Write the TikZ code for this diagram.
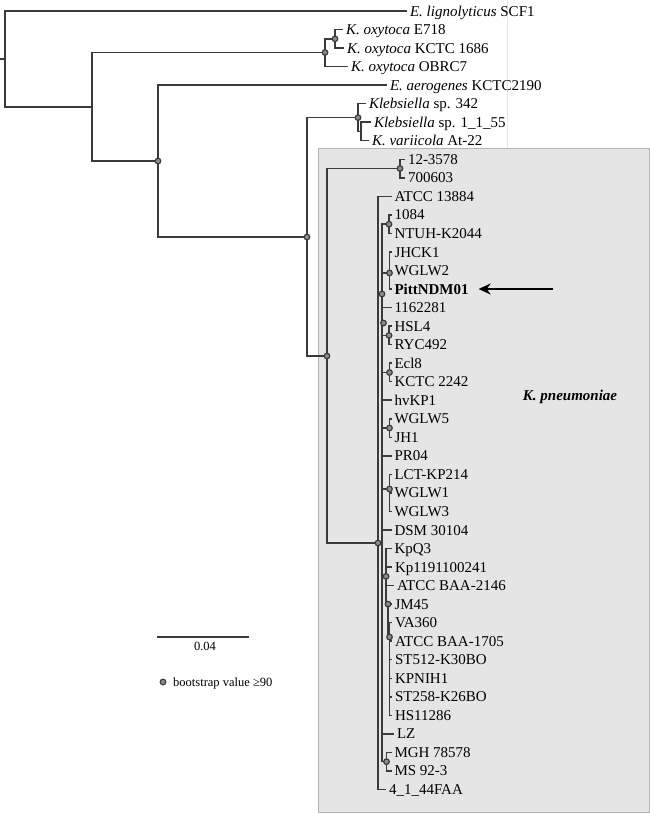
\documentclass[tikz,border=0pt]{standalone}
\usepackage{fontspec}
\setmainfont{Liberation Serif}
\usepackage{tikz}
\usetikzlibrary{arrows.meta}

\definecolor{treeline}{HTML}{3A3A3A}
\definecolor{boxfill}{HTML}{E5E5E5}
\definecolor{boxline}{HTML}{B4B4B4}
\definecolor{bootfill}{HTML}{8C8C8C}

\begin{document}
\begin{tikzpicture}[x=1pt, y=-1pt,
    branch/.style={treeline, line width=1.5pt},
    core/.style={treeline, line width=2.5pt},
    boot/.style={circle, draw=treeline, fill=bootfill, line width=1.2pt, minimum size=5.6pt, inner sep=0pt},
    leaf/.style={anchor=west, inner sep=0pt, outer xsep=3pt, outer ysep=0pt,
        text height=10pt, text depth=0pt, font=\fontsize{15}{18}\selectfont},
    legendtext/.style={inner sep=0pt, text height=8.5pt, text depth=0pt, font=\fontsize{12.5}{15}\selectfont},
    pointer/.style={-{Stealth[length=12pt, width=11pt]}, black, line width=2pt, shorten >=7pt}]
    \useasboundingbox (0,0) rectangle (650,814);

    % K. pneumoniae box
    \draw [fill=boxfill, draw=boxline, line width=0.8pt] (318,148) rectangle (649.5,812);
    \draw [black!10, line width=0.8pt] (507,0) -- (507,148);

    % inner nodes
    \coordinate (stem) at (0,59);
    \coordinate (r0) at (5,59);
    \coordinate (n1) at (92,107);
    \coordinate (oxy) at (325,52.5);
    \coordinate (oxy2) at (335,38.8);
    \coordinate (n2) at (158,161);
    \coordinate (n3) at (307,237);
    \coordinate (kleb) at (358,117.6);
    \coordinate (kleb2) at (361,131.5);
    \coordinate (n4) at (327,356);
    \coordinate (c12) at (400,168.5);
    \coordinate (kp) at (378,543);
    \coordinate (kpi) at (382,543);
        \coordinate (c1084) at (389,224.2);
        \coordinate (cJHCK) at (389.5,273);
        \coordinate (kpu) at (382,294);
        \coordinate (kpv) at (383.5,323);
        \coordinate (cHSL) at (389,335.4);
        \coordinate (cEcl) at (389.5,372.5);
        \coordinate (cWGLW5) at (389.5,428);
        \coordinate (cLCT) at (389.5,489);
        \coordinate (g2) at (386,576.4);
        \coordinate (g3) at (388,604.1);
        \coordinate (cVA) at (389.5,637);
        \coordinate (cMGH) at (386.5,761.7);

    % leaves
    \node[leaf] (lLign) at (407,11) {\textit{E. lignolyticus} SCF1};
    \node[leaf] (l718) at (343,29.5) {\textit{K. oxytoca} E718};
    \node[leaf] (l1686) at (344,48.1) {\textit{K. oxytoca} KCTC 1686};
    \node[leaf] (lOBRC) at (348,66.6) {\textit{K. oxytoca} OBRC7};
    \node[leaf] (lAerog) at (387,85.1) {\textit{E. aerogenes} KCTC2190};
    \node[leaf] (l342) at (366,103.7) {\textit{Klebsiella} sp. 342};
    \node[leaf] (l1155) at (371,122.2) {\textit{Klebsiella} sp. 1\_1\_55};
    \node[leaf] (lVari) at (369,140.7) {\textit{K. variicola} At-22};
    \node[leaf] (l3578) at (405,159.3) {12-3578};
    \node[leaf] (l0603) at (405,177.8) {700603};
    \node[leaf] (l13884) at (391.5,196.4) {ATCC 13884};
    \node[leaf] (l1084) at (391.5,214.9) {1084};
    \node[leaf] (lNTUH) at (391.5,233.4) {NTUH-K2044};
    \node[leaf] (lJHCK) at (391.5,252.0) {JHCK1};
    \node[leaf] (lWGLW2) at (391.5,270.5) {WGLW2};
    \node[leaf] (lPitt) at (391.5,289.0) {\textbf{PittNDM01}};
    \node[leaf] (l1162) at (391.5,307.6) {1162281};
    \node[leaf] (lHSL) at (391.5,326.1) {HSL4};
    \node[leaf] (lRYC) at (391.5,344.6) {RYC492};
    \node[leaf] (lEcl) at (391.5,363.2) {Ecl8};
    \node[leaf] (lKCTC) at (391.5,381.7) {KCTC 2242};
    \node[leaf] (lhvKP) at (391.5,400.2) {hvKP1};
    \node[leaf] (lWGLW5) at (391.5,418.8) {WGLW5};
    \node[leaf] (lJH1) at (391.5,437.3) {JH1};
    \node[leaf] (lPR04) at (391.5,455.8) {PR04};
    \node[leaf] (lLCT) at (391.5,474.4) {LCT-KP214};
    \node[leaf] (lWGLW1) at (391.5,492.9) {WGLW1};
    \node[leaf] (lWGLW3) at (391.5,511.4) {WGLW3};
    \node[leaf] (lDSM) at (391.5,530.0) {DSM 30104};
    \node[leaf] (lKpQ3) at (391.5,548.5) {KpQ3};
    \node[leaf] (lKp119) at (392,567.1) {Kp1191100241};
    \node[leaf] (lBAA2146) at (394,585.6) {ATCC BAA-2146};
    \node[leaf] (lJM45) at (391.5,604.1) {JM45};
    \node[leaf] (lVA) at (392,622.7) {VA360};
    \node[leaf] (lBAA1705) at (392,641.2) {ATCC BAA-1705};
    \node[leaf] (lST512) at (392,659.7) {ST512-K30BO};
    \node[leaf] (lKPNIH) at (392,678.3) {KPNIH1};
    \node[leaf] (lST258) at (392,696.8) {ST258-K26BO};
    \node[leaf] (lHS) at (392,715.3) {HS11286};
    \node[leaf] (lLZ) at (394,733.9) {LZ};
    \node[leaf] (lMGH) at (391.5,752.4) {MGH 78578};
    \node[leaf] (lMS) at (391.5,770.9) {MS 92-3};
    \node[leaf] (l44FAA) at (386,789.5) {4\_1\_44FAA};

    % branches
    \draw [branch] (stem) -- (r0);
    \draw [branch] (r0) |- (lLign) (r0) |- (n1);
    \draw [branch] (n1) |- (oxy) (n1) |- (n2);
    \draw [branch] (oxy) |- (oxy2) (oxy) |- (lOBRC);
    \draw [branch] (oxy2) |- (l718) (oxy2) |- (l1686);
    \draw [branch] (n2) |- (lAerog) (n2) |- (n3);
    \draw [branch] (n3) |- (kleb) (n3) |- (n4);
    \draw [branch] (kleb) |- (l342) (kleb) |- (kleb2);
    \draw [branch] (kleb2) |- (l1155) (kleb2) |- (lVari);
    \draw [branch] (n4) |- (c12) (n4) |- (kp);
    \draw [branch] (c12) |- (l3578) (c12) |- (l0603);

    % K. pneumoniae clade
    \draw [branch] (kp) |- (l13884) (kp) |- (l44FAA) (kp) -- (kpi);
    \draw [core] (c1084 -| kpi) -- (cMGH -| kpi);
    \draw [branch] (kpi) |- (c1084) (kpi) |- (cJHCK) (kpi) |- (l1162)
        (kpi) |- (cHSL) (kpi) |- (cEcl) (kpi) |- (lhvKP) (kpi) |- (cWGLW5)
        (kpi) |- (lPR04) (kpi) |- (cLCT) (kpi) |- (lDSM) (kpi) |- (g2)
        (kpi) |- (lLZ) (kpi) |- (cMGH);
    \draw [branch] (c1084) |- (l1084) (c1084) |- (lNTUH);
    \draw [branch] (cJHCK) |- (lJHCK) (cJHCK) |- (lWGLW2) (cJHCK) |- (lPitt);
    \draw [branch] (cHSL) |- (lHSL) (cHSL) |- (lRYC);
    \draw [branch] (cEcl) |- (lEcl) (cEcl) |- (lKCTC);
    \draw [branch] (cWGLW5) |- (lWGLW5) (cWGLW5) |- (lJH1);
    \draw [branch] (cLCT) |- (lLCT) (cLCT) |- (lWGLW1) (cLCT) |- (lWGLW3);
    \draw [branch] (g2) |- (lKpQ3) (g2) |- (lKp119) (g2) |- (lBAA2146) (g2) |- (g3);
    \draw [branch] (g3) |- (lJM45) (g3) |- (cVA);
    \draw [branch] (cVA) |- (lVA) (cVA) |- (lBAA1705) (cVA) |- (lST512)
        (cVA) |- (lKPNIH) (cVA) |- (lST258) (cVA) |- (lHS);
    \draw [branch] (cMGH) |- (lMGH) (cMGH) |- (lMS);

    % bootstrap circles
    \node[boot] (bOxy) at (oxy) {};
    \node[boot] (bOxy2) at (oxy2) {};
    \node[boot] (bN2) at (n2) {};
    \node[boot] (bN3) at (n3) {};
    \node[boot] (bKleb) at (kleb) {};
    \node[boot] (bN4) at (n4) {};
    \node[boot] (bC12) at (c12) {};
    \node[boot] (bKp) at (kp) {};
    \node[boot] (bC1084) at (c1084) {};
    \node[boot] (bJHCK) at (cJHCK) {};
    \node[boot] (bKpu) at (kpu) {};
    \node[boot] (bKpv) at (kpv) {};
    \node[boot] (bHSL) at (cHSL) {};
    \node[boot] (bEcl) at (cEcl) {};
    \node[boot] (bWGLW5) at (cWGLW5) {};
    \node[boot] (bLCT) at (cLCT) {};
    \node[boot] (bG2) at (g2) {};
    \node[boot] (bG3) at (g3) {};
    \node[boot] (bVA) at (cVA) {};
    \node[boot] (bMGH) at (cMGH) {};

    % arrow and clade name
    \coordinate (arrtail) at (553,289);
    \draw [pointer] (arrtail) -- (lPitt);
    \node[inner sep=0pt, font=\fontsize{15}{18}\selectfont\bfseries\itshape] (kpn) at (570,397) {K. pneumoniae};

    % scale bar and legend
    \coordinate (sbl) at (157,637);
    \coordinate (sbr) at (249,637);
    \draw [branch] (sbl) -- (sbr);
    \node[legendtext] (sblab) at (205,646) {0.04};
    \node[boot] (bLeg) at (163,682) {};
    \node[legendtext, anchor=west] (leglab) at (173,682) {bootstrap value ≥90};
\end{tikzpicture}
\end{document}
